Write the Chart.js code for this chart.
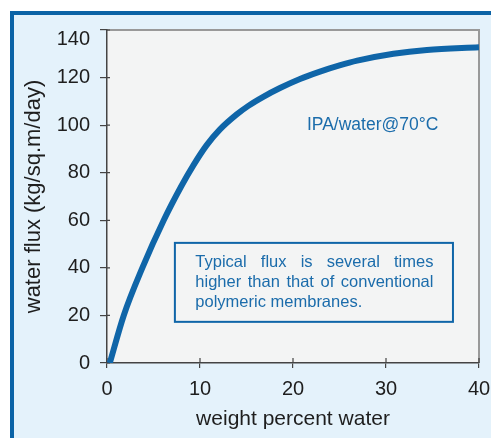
<!DOCTYPE html>
<html>
<head>
<meta charset="utf-8">
<script src="https://cdn.jsdelivr.net/npm/chart.js@4"></script>
<style>
html,body{margin:0;padding:0;background:#fff;}
canvas{display:block;}
</style>
</head>
<body>
<canvas id="c" width="491" height="438"></canvas>
<script>
const waterPct = [0.3, 1.8, 3.8, 6.1, 8.0, 9.3, 10.7, 12.15, 13.95, 15.2, 16.8, 18.6, 20.75, 22.9, 25.0, 26.9, 30.8, 34.4, 40];
const flux     = [0, 20, 40, 60, 74.4, 83.2, 91.5, 98.2, 104.5, 108.1, 111.9, 115.6, 119.4, 122.5, 125.1, 127.1, 130.0, 131.6, 132.7];
const xTicks = [0, 10, 20, 30, 40];
const yTicks = [0, 20, 40, 60, 80, 100, 120, 140];
const xTitle = 'weight percent water';
const yTitle = 'water flux (kg/sq.m/day)';
const noteLabel = 'IPA/water@70°C';
const boxLines = ['Typical flux is several times', 'higher than that of conventional', 'polymeric membranes.'];

const BLUE = '#0f65a8';
const TXTBLUE = '#1b6cab';
const INK = '#1e1e1e';
const FONT = '"Liberation Sans", Arial, Helvetica, sans-serif';

const decor = {
  id: 'decor',
  beforeDraw(chart) {
    const ctx = chart.ctx, W = chart.width, H = chart.height;
    const a = chart.chartArea;
    ctx.save();
    ctx.fillStyle = '#ffffff';
    ctx.fillRect(0, 0, W, H);
    ctx.fillStyle = '#e4f2fb';
    ctx.fillRect(10, 11, W - 10, H - 11);
    ctx.fillStyle = '#0b63a6';
    ctx.fillRect(10, 11, W - 10, 4);
    ctx.fillRect(10, 11, 4, H - 11);
    ctx.fillStyle = '#f3f4f4';
    ctx.fillRect(a.left, a.top, a.right - a.left, a.bottom - a.top);
    ctx.strokeStyle = '#999999';
    ctx.lineWidth = 2;
    ctx.beginPath();
    ctx.moveTo(a.left, a.top);
    ctx.lineTo(a.right, a.top);
    ctx.lineTo(a.right, a.bottom);
    ctx.stroke();
    ctx.restore();
  },
  beforeDatasetsDraw(chart) {
    const ctx = chart.ctx;
    const xs = chart.scales.x, ys = chart.scales.y;
    const a = chart.chartArea;
    ctx.save();
    // inner tick stubs
    ctx.strokeStyle = '#444';
    ctx.lineWidth = 1.2;
    ctx.beginPath();
    xTicks.forEach(v => { const px = xs.getPixelForValue(v); ctx.moveTo(px, a.bottom); ctx.lineTo(px, a.bottom - 5); });
    yTicks.forEach(v => { const py = ys.getPixelForValue(v); ctx.moveTo(a.left, py); ctx.lineTo(a.left + 3, py); });
    ctx.stroke();
    // top tick label, nudged down as in the original
    ctx.fillStyle = INK;
    ctx.font = '20px ' + FONT;
    ctx.textAlign = 'right';
    ctx.textBaseline = 'middle';
    const topTick = yTicks[yTicks.length - 1];
    ctx.fillText(String(topTick), a.left - 17, ys.getPixelForValue(topTick) + 9);
    // annotation box
    const bx0 = xs.getPixelForValue(7.3), bx1 = xs.getPixelForValue(37.2);
    const by0 = ys.getPixelForValue(50.5), by1 = ys.getPixelForValue(17.3);
    ctx.strokeStyle = BLUE;
    ctx.lineWidth = 2;
    ctx.strokeRect(bx0, by0, bx1 - bx0, by1 - by0);
    ctx.fillStyle = TXTBLUE;
    ctx.font = '16.5px ' + FONT;
    ctx.textBaseline = 'middle';
    ctx.textAlign = 'left';
    const tl = xs.getPixelForValue(9.5), tr = xs.getPixelForValue(35.1);
    const lineVals = [42.4, 34.0, 25.6];
    boxLines.forEach((ln, i) => {
      const y = ys.getPixelForValue(lineVals[i]);
      if (i < 2) {
        const words = ln.split(' ');
        const wsum = words.reduce((s, w) => s + ctx.measureText(w).width, 0);
        const gap = (tr - tl - wsum) / (words.length - 1);
        let x = tl;
        words.forEach(w => { ctx.fillText(w, x, y); x += ctx.measureText(w).width + gap; });
      } else {
        ctx.fillText(ln, tl, y);
      }
    });
    // condition label
    ctx.font = '17.5px ' + FONT;
    ctx.fillText(noteLabel, xs.getPixelForValue(21.5), ys.getPixelForValue(99.8));
    ctx.restore();
  }
};

new Chart(document.getElementById('c'), {
  type: 'scatter',
  data: {
    datasets: [{
      data: waterPct.map((x, i) => ({ x: x, y: flux[i] })),
      showLine: true,
      borderColor: BLUE,
      borderWidth: 6,
      pointRadius: 0,
      cubicInterpolationMode: 'monotone',
      borderCapStyle: 'butt',
      borderJoinStyle: 'round',
      clip: 0
    }]
  },
  options: {
    responsive: false,
    animation: false,
    devicePixelRatio: 1,
    layout: { padding: { left: 14, top: 30, right: 12, bottom: 0 } },
    plugins: { legend: { display: false }, tooltip: { enabled: false } },
    scales: {
      x: {
        type: 'linear', min: 0, max: 40,
        afterFit(s) { s.height = 75; s.paddingLeft = 0; s.paddingRight = 0; },
        afterBuildTicks(s) { s.ticks = xTicks.map(v => ({ value: v })); },
        ticks: { color: INK, font: { family: FONT, size: 20 }, padding: 9 },
        grid: { drawOnChartArea: false, drawTicks: true, tickLength: 5, color: '#444', lineWidth: 1.2 },
        border: { display: true, color: '#444', width: 1.5 },
        title: { display: true, text: xTitle, color: INK, font: { family: FONT, size: 21 }, padding: { top: 0, bottom: 6 } }
      },
      y: {
        type: 'linear', min: 0, max: 140,
        afterFit(s) { s.width = 93; s.paddingTop = 0; s.paddingBottom = 0; },
        afterBuildTicks(s) { s.ticks = yTicks.map(v => ({ value: v })); },
        ticks: {
          color: INK, font: { family: FONT, size: 20 }, padding: 10,
          callback: v => (v === yTicks[yTicks.length - 1] ? '' : String(v))
        },
        grid: { drawOnChartArea: false, drawTicks: true, tickLength: 7, color: '#444', lineWidth: 1.2 },
        border: { display: true, color: '#444', width: 1.5 },
        title: { display: true, text: yTitle, color: INK, font: { family: FONT, size: 22 }, padding: { top: 7, bottom: 0 } }
      }
    }
  },
  plugins: [decor]
});
</script>
</body>
</html>
